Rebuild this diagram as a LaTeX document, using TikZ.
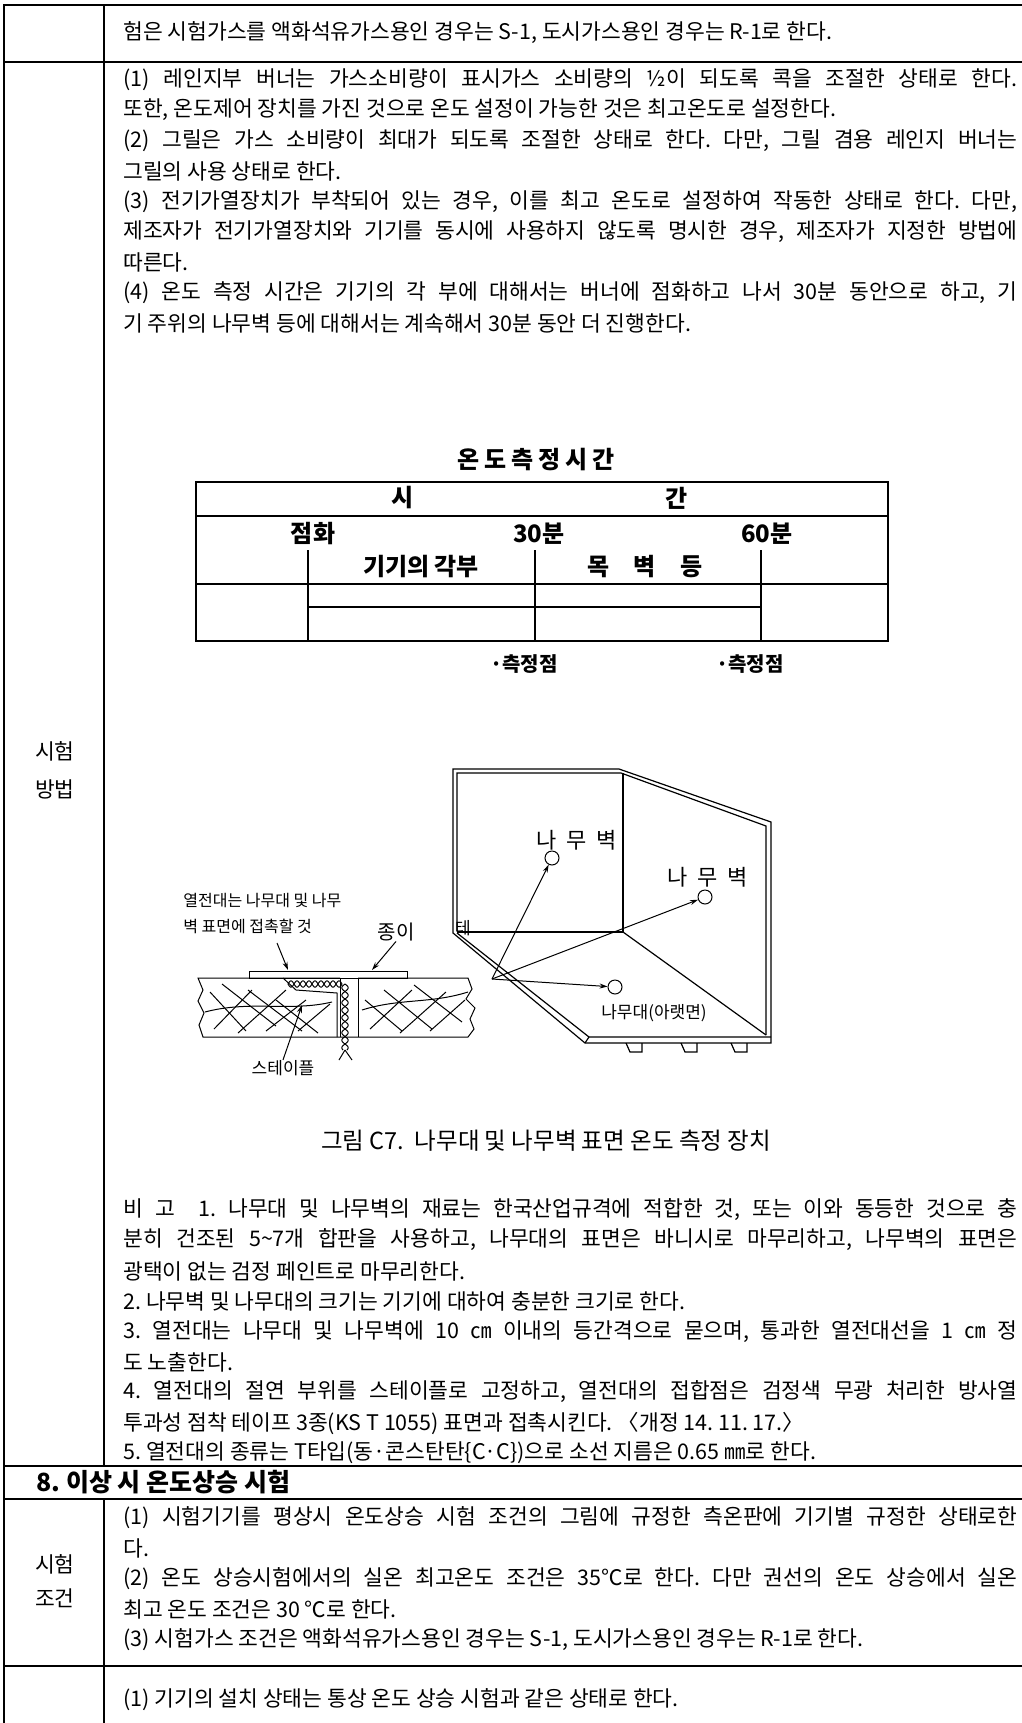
\documentclass[tikz,border=0pt]{standalone}
\usepackage{fontspec}
\setmainfont{Noto Sans CJK KR}
\usetikzlibrary{arrows.meta,positioning}
\frenchspacing

\newcommand{\fl}[1]{\makebox[447pt][s]{#1}}
\newcommand{\lsp}{\hspace{2.5pt}}

\tikzset{
  txt/.style={anchor=west,inner sep=0pt,font=\fontsize{10.75}{12}\selectfont},
  side/.style={inner sep=0pt,font=\fontsize{10.75}{12}\selectfont},
  rule/.style={line width=0.75pt},
  tline/.style={line width=0.6pt},
  thead/.style={inner sep=0pt,font=\bfseries\fontsize{12}{13}\selectfont},
  flbl/.style={inner sep=0pt,font=\fontsize{8}{9}\selectfont},
  probe/.style={draw,circle,minimum size=7pt,inner sep=0pt,line width=0.5pt},
  arr/.style={-{Stealth[length=4pt,width=2.5pt]},line width=0.5pt},
  wall/.style={line width=0.6pt},
  wood/.style={line width=0.5pt},
}

\begin{document}
\begin{tikzpicture}[x=0.5pt,y=-0.5pt]
\useasboundingbox (0,0) rectangle (1022,1723);

% frame
\draw[rule] (4,1723) -- (4,5) -- (1022,5);
\draw[rule] (104,5) -- (104,1466);
\draw[rule] (104,1499) -- (104,1723);
\foreach \y in {62,1466,1499,1666}
  \draw[rule] (4,\y) -- (1022,\y);

% row 1
\node[txt] (r1) at (123,33) {험은 시험가스를 액화석유가스용인 경우는 S-1, 도시가스용인 경우는 R-1로 한다.};

% test method
\node[side] (m1) at (55,751) {시험};
\node[side] (m2) at (55,789) {방법};
\node[txt] (p1) at (123,80) {\fl{(1) 레인지부 버너는 가스소비량이 표시가스 소비량의 ½이 되도록 콕을 조절한 상태로 한다.}};
\node[txt] (p2) at (123,110) {또한, 온도제어 장치를 가진 것으로 온도 설정이 가능한 것은 최고온도로 설정한다.};
\node[txt] (p3) at (123,141) {\fl{(2) 그릴은 가스 소비량이 최대가 되도록 조절한 상태로 한다. 다만, 그릴 겸용 레인지 버너는}};
\node[txt] (p4) at (123,171) {그릴의 사용 상태로 한다.};
\node[txt] (p5) at (123,202) {\fl{(3) 전기가열장치가 부착되어 있는 경우, 이를 최고 온도로 설정하여 작동한 상태로 한다. 다만,}};
\node[txt] (p6) at (123,232) {\fl{제조자가 전기가열장치와 기기를 동시에 사용하지 않도록 명시한 경우, 제조자가 지정한 방법에}};
\node[txt] (p7) at (123,262) {따른다.};
\node[txt] (p8) at (123,293) {\fl{(4) 온도 측정 시간은 기기의 각 부에 대해서는 버너에 점화하고 나서 30분 동안으로 하고, 기}};
\node[txt] (p9) at (123,323) {기 주위의 나무벽 등에 대해서는 계속해서 30분 동안 더 진행한다.};

% timing table
\node[thead] (ttl) at (536,460) {온\lsp 도\lsp 측\lsp 정\lsp 시\lsp 간};
\draw[line width=0.8pt] (196,482) rectangle (888,641);
\draw[tline] (196,516) -- (888,516);
\draw[tline] (196,584) -- (888,584);
\draw[tline] (308,607) -- (761,607);
\foreach \x in {308,535,761}
  \draw[tline] (\x,550) -- (\x,641);
\node[thead] (si) at (403,498) {시};
\node[thead] (gan) at (677,498) {간};
\node[thead] (t0) at (313,534) {점화};
\node[thead] (t30) at (539,534) {30분};
\node[thead] (t60) at (767,534) {60분};
\node[thead] (ka) at (421,567) {기기의 각부};
\node[thead] (kb) at (645,567) {목\hspace{12pt}벽\hspace{12pt}등};
\node[thead,font=\bfseries\fontsize{10}{11}\selectfont] (s30) at (524,664) {·측정점};
\node[thead,font=\bfseries\fontsize{10}{11}\selectfont] (s60) at (750,664) {·측정점};

% wooden walls and floor
\draw[wall] (453,933) -- (453,769) -- (619,769) -- (771,822) -- (771,1043) -- (585,1043) -- cycle;
\draw[wall] (457,931) -- (457,773) -- (621,773) -- (766,826) -- (766,1035);
\draw[wall] (457,933) -- (589,1037) -- (771,1037);
\draw[wall] (585,1043) -- (589,1037);
\draw[wall] (623,773) -- (623,932) -- (457,932);
\draw[wall] (623,932) -- (766,1035);
\foreach \x in {626,681,731}
  \draw[wall] (\x,1043) -- (\x+4,1052) -- (\x+16,1052) -- (\x+16,1043);
\node[probe] (w1) at (552,858) {};
\node[probe] (w2) at (705,897) {};
\node[probe] (w3) at (615,987) {};
\node[flbl,font=\fontsize{11}{12}\selectfont] (lw1) at (577,840) {나\ \ 무\ \ 벽};
\node[flbl,font=\fontsize{11}{12}\selectfont] (lw2) at (708,877) {나\ \ 무\ \ 벽};
\node[flbl,font=\fontsize{8.5}{9}\selectfont] (lw3) at (654,1013) {나무대(아랫면)};
\node[flbl,font=\fontsize{8.5}{9}\selectfont] (te) at (463,928) {테};
\coordinate (src) at (492,979);
\draw[arr] (src) -- (w1);
\draw[arr] (src) -- (w2);
\draw[arr] (src) -- (w3);

% thermocouple in wood
\draw[wood] (249,971) rectangle (407,978);
\draw[wood] (340,978) -- (198,978) -- (203,990) -- (198,1001) -- (204,1013) -- (199,1025) -- (203,1037) -- (468,1037)
  -- (474,1029) -- (470,1019) -- (475,1008) -- (466,999) -- (472,989) -- (468,978) -- (358,978);
\draw[wood] (283,978) -- (296,990) -- (337,993) -- (337,1037);
\draw[wood] (340,978) -- (340,1037);
\draw[wood] (358,978) -- (358,1037);
\foreach \a/\b/\c/\d in {210/992/246/1031, 222/984/276/1026, 248/990/302/1031, 276/1000/318/1033,
    214/1029/252/990, 238/1033/286/990, 266/1031/306/1000, 298/1031/330/1004,
    365/1000/402/1031, 384/990/432/1029, 414/985/462/1022, 370/1029/412/990,
    400/1033/446/992, 430/1031/465/1000}
  \draw[wood] (\a,\b) -- (\c,\d);
\draw[wood] (205,1012) .. controls (250,1000) and (290,1012) .. (332,1002);
\draw[wood] (362,1010) .. controls (400,998) and (430,1004) .. (468,992);
\draw[wood] plot[domain=0:54,samples=70] (288+\x,{984+3.2*sin(\x*30)});
\draw[wood] plot[domain=0:54,samples=70] (288+\x,{984-3.2*sin(\x*30)});
\draw[wood] plot[domain=0:66,samples=70] ({345+3.2*sin(\x*24)},984+\x);
\draw[wood] plot[domain=0:66,samples=70] ({345-3.2*sin(\x*24)},984+\x);
\draw[wood] (345,1050) -- (339,1060);
\draw[wood] (345,1050) -- (352,1060);
\node[flbl,anchor=west] (nt1) at (183,900) {열전대는 나무대 및 나무};
\node[flbl,anchor=west] (nt2) at (183,926) {벽 표면에 접촉할 것};
\node[flbl,font=\fontsize{10}{11}\selectfont] (ppr) at (396,932) {종이};
\node[flbl,font=\fontsize{8.5}{9}\selectfont] (stp) at (283,1068) {스테이플};
\coordinate (ts1) at (277,943);
\coordinate (tp1) at (288,970);
\coordinate (tp2) at (372,970);
\coordinate (tp3) at (302,1005);
\draw[arr] (ts1) -- (tp1);
\draw[arr] (ppr.south) -- (tp2);
\draw[arr] (stp.north) -- (tp3);

% caption and remarks
\node[side,font=\fontsize{11.75}{13}\selectfont] (cap) at (546,1141) {그림 C7.\ \ 나무대 및 나무벽 표면 온도 측정 장치};
\node[txt] (n1) at (123,1210) {\fl{비 고\ \ 1. 나무대 및 나무벽의 재료는 한국산업규격에 적합한 것, 또는 이와 동등한 것으로 충}};
\node[txt] (n2) at (123,1240) {\fl{분히 건조된 5\textasciitilde7개 합판을 사용하고, 나무대의 표면은 바니시로 마무리하고, 나무벽의 표면은}};
\node[txt] (n3) at (123,1271) {광택이 없는 검정 페인트로 마무리한다.};
\node[txt] (n4) at (123,1301) {2. 나무벽 및 나무대의 크기는 기기에 대하여 충분한 크기로 한다.};
\node[txt] (n5) at (123,1332) {\fl{3. 열전대는 나무대 및 나무벽에 10 ㎝ 이내의 등간격으로 묻으며, 통과한 열전대선을 1 ㎝ 정}};
\node[txt] (n6) at (123,1362) {도 노출한다.};
\node[txt] (n7) at (123,1392) {\fl{4. 열전대의 절연 부위를 스테이플로 고정하고, 열전대의 접합점은 검정색 무광 처리한 방사열}};
\node[txt] (n8) at (123,1423) {투과성 점착 테이프 3종(KS T 1055) 표면과 접촉시킨다. 〈개정 14. 11. 17.〉};
\node[txt] (n9) at (123,1453) {5. 열전대의 종류는 T타입(동·콘스탄탄\{C·C\})으로 소선 지름은 0.65 ㎜로 한다.};

% section 8
\node[txt,font=\bfseries\fontsize{12.5}{13}\selectfont] (h8) at (36,1482) {8. 이상 시 온도상승 시험};
\node[side] (k1) at (55,1564) {시험};
\node[side] (k2) at (55,1598) {조건};
\node[txt] (c1) at (123,1518) {\fl{(1) 시험기기를 평상시 온도상승 시험 조건의 그림에 규정한 측온판에 기기별 규정한 상태로한}};
\node[txt] (c2) at (123,1548) {다.};
\node[txt] (c3) at (123,1579) {\fl{(2) 온도 상승시험에서의 실온 최고온도 조건은 35℃로 한다. 다만 권선의 온도 상승에서 실온}};
\node[txt] (c4) at (123,1609) {최고 온도 조건은 30 ℃로 한다.};
\node[txt] (c5) at (123,1640) {(3) 시험가스 조건은 액화석유가스용인 경우는 S-1, 도시가스용인 경우는 R-1로 한다.};
\node[txt] (d1) at (123,1700) {(1) 기기의 설치 상태는 통상 온도 상승 시험과 같은 상태로 한다.};
\end{tikzpicture}
\end{document}
